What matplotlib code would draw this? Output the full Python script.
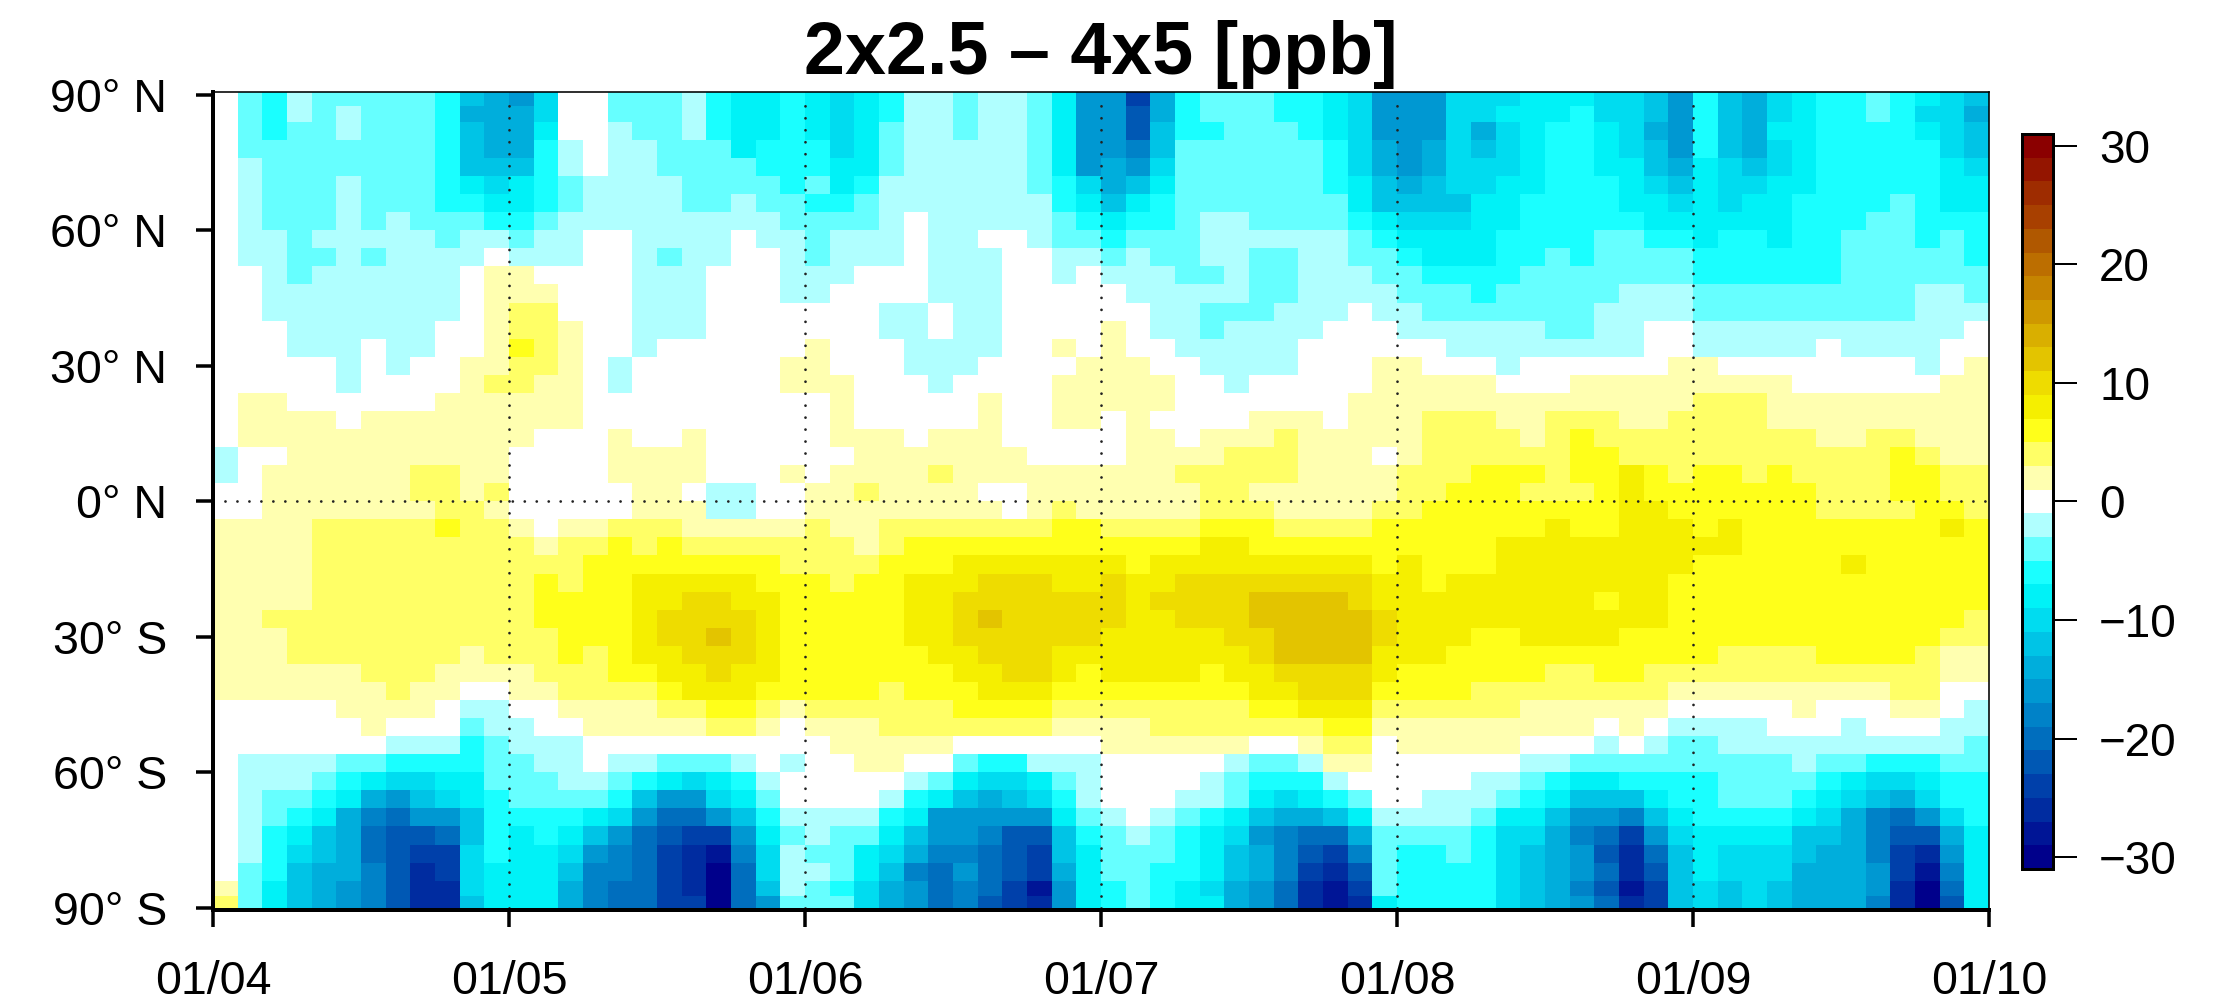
import numpy as np
import matplotlib
matplotlib.use('Agg')
from matplotlib import pyplot as plt
from matplotlib.colors import ListedColormap, BoundaryNorm

plt.rcParams['font.family'] = ['Liberation Sans', 'DejaVu Sans']

# colour bin read for every cell (1 bin = 2 ppb), north to south, 12 columns a month
apr_may = [
    [0,-2,-3,-1,-2,-2,-2,-2,-2,-3,-6,-7,-8,-5,0,0,-2,-2,-2,-1,-3,-4,-4,-3],
    [0,-2,-3,-1,-2,-1,-2,-2,-2,-3,-7,-7,-7,-5,0,0,-2,-2,-2,-1,-3,-4,-4,-3],
    [0,-2,-3,-2,-2,-1,-2,-2,-2,-3,-6,-7,-7,-4,0,0,-1,-2,-2,-1,-3,-4,-4,-3],
    [0,-2,-2,-2,-2,-2,-2,-2,-2,-3,-6,-7,-7,-3,-1,0,-1,-1,-2,-2,-2,-4,-3,-3],
    [0,-1,-2,-2,-2,-2,-2,-2,-2,-3,-6,-6,-6,-3,-1,0,-1,-1,-2,-2,-2,-2,-3,-3],
    [0,-1,-2,-2,-2,-1,-2,-2,-2,-3,-4,-5,-4,-3,-2,-1,-1,-1,-1,-2,-2,-2,-2,-3],
    [0,-1,-2,-2,-2,-1,-2,-2,-2,-3,-3,-4,-4,-3,-2,-1,-1,-1,-1,-2,-2,-1,-2,-2],
    [0,-1,-2,-2,-2,-1,-2,-1,-2,-2,-2,-3,-3,-2,-1,-1,-1,-1,-1,-1,-1,-1,-1,-2],
    [0,-1,-1,-2,-1,-1,-1,-1,-1,-2,-1,-1,-2,-1,-1,0,0,-1,-1,-1,-1,0,-1,-1],
    [0,-1,-1,-2,-2,-1,-2,-1,-1,-1,-1,0,-1,-1,-1,0,0,-1,-2,-1,-1,0,0,-1],
    [0,0,-1,-2,-1,-1,-1,-1,-1,-1,0,1,1,0,0,0,0,-1,-1,-1,0,0,0,-1],
    [0,0,-1,-1,-1,-1,-1,-1,-1,-1,0,1,1,1,0,0,0,-1,-1,-1,0,0,0,-1],
    [0,0,-1,-1,-1,-1,-1,-1,-1,-1,0,1,2,2,0,0,0,-1,-1,-1,0,0,0,0],
    [0,0,0,-1,-1,-1,-1,-1,-1,0,0,1,2,2,1,0,0,-1,-1,-1,0,0,0,0],
    [0,0,0,-1,-1,-1,0,-1,-1,0,0,1,3,2,1,0,0,-1,0,0,0,0,0,0],
    [0,0,0,0,0,-1,0,-1,0,0,1,1,2,2,1,0,-1,0,0,0,0,0,0,1],
    [0,0,0,0,0,-1,0,0,0,0,1,2,2,1,1,0,-1,0,0,0,0,0,0,1],
    [0,1,1,0,0,0,0,0,0,1,1,1,1,1,1,0,0,0,0,0,0,0,0,0],
    [0,1,1,1,1,0,1,1,1,1,1,1,1,1,1,0,0,0,0,0,0,0,0,0],
    [0,1,1,1,1,1,1,1,1,1,1,1,1,0,0,0,1,0,0,1,0,0,0,0],
    [-1,0,0,1,1,1,1,1,1,1,1,1,0,0,0,0,1,1,1,1,0,0,0,0],
    [-1,0,1,1,1,1,1,1,2,2,1,1,0,0,0,0,1,1,1,1,0,0,0,1],
    [0,0,1,1,1,1,1,1,2,2,1,2,0,0,0,0,0,1,1,0,-1,-1,0,0],
    [0,0,1,1,1,1,1,1,1,2,2,1,0,0,0,0,0,1,1,1,-1,-1,0,0],
    [1,1,1,1,2,2,2,2,2,3,2,2,1,0,1,1,2,2,2,1,1,1,1,1],
    [1,1,1,1,2,2,2,2,2,2,2,2,2,1,2,2,3,2,3,2,2,2,2,2],
    [1,1,1,1,2,2,2,2,2,2,2,2,2,2,2,3,3,3,3,3,3,3,3,2],
    [1,1,1,1,2,2,2,2,2,2,2,2,2,3,2,3,3,4,4,4,4,4,3,3],
    [1,1,1,1,2,2,2,2,2,2,2,2,2,3,3,3,3,4,4,5,5,4,4,3],
    [1,1,2,2,2,2,2,2,2,2,2,2,2,3,3,3,3,4,5,5,5,5,4,3],
    [1,1,1,2,2,2,2,2,2,2,2,2,2,2,3,3,3,4,5,5,6,5,4,3],
    [1,1,1,2,2,2,2,2,2,2,1,2,2,2,3,2,3,4,4,5,5,5,4,3],
    [1,1,1,1,1,1,2,2,2,1,1,1,1,2,2,2,3,3,4,4,5,4,4,3],
    [1,1,1,1,1,1,1,2,1,1,0,0,1,1,2,2,2,2,3,4,4,4,3,3],
    [0,0,0,0,0,1,1,1,1,0,-1,-1,0,0,1,1,1,1,2,2,3,3,2,1],
    [0,0,0,0,0,0,1,0,0,0,-2,-1,-1,0,0,1,1,1,1,1,2,2,1,0],
    [0,0,0,0,0,0,0,-1,-1,-1,-3,-2,-1,-1,-1,0,0,0,0,0,0,0,0,0],
    [0,-1,-1,-1,-1,-2,-2,-3,-3,-3,-3,-2,-2,-1,-1,0,-1,-1,-2,-2,-2,-1,0,-1],
    [0,-1,-1,-1,-2,-3,-4,-5,-5,-4,-4,-2,-2,-2,-1,-1,-2,-3,-4,-5,-4,-3,-1,0],
    [0,-1,-2,-2,-3,-4,-7,-8,-6,-5,-4,-3,-2,-2,-2,-2,-3,-6,-8,-8,-5,-4,-2,0],
    [0,-1,-2,-3,-4,-7,-9,-10,-8,-8,-6,-3,-3,-3,-3,-4,-5,-8,-10,-10,-8,-6,-3,-1],
    [0,-1,-3,-4,-6,-7,-10,-11,-11,-10,-6,-3,-4,-3,-4,-6,-8,-10,-11,-12,-12,-8,-4,-2],
    [0,-1,-3,-5,-6,-7,-10,-11,-12,-12,-5,-3,-4,-4,-5,-8,-9,-10,-12,-13,-14,-9,-5,-1],
    [0,-2,-3,-6,-7,-7,-9,-11,-13,-12,-5,-4,-4,-4,-6,-9,-9,-10,-12,-13,-15,-10,-5,-1],
    [1,-2,-4,-6,-7,-8,-9,-11,-13,-13,-5,-4,-4,-4,-7,-9,-10,-10,-12,-13,-15,-10,-6,-1],
    [2,-2,-4,-6,-7,-8,-9,-11,-13,-13,-6,-4,-4,-4,-7,-9,-10,-10,-12,-12,-15,-10,-8,-2],
]

jun_jul = [
    [-4,-5,-4,-3,-1,-1,-2,-1,-1,-2,-4,-8,-8,-12,-7,-3,-2,-2,-2,-3,-3,-4,-5,-8],
    [-4,-5,-4,-3,-1,-1,-2,-1,-1,-2,-4,-8,-8,-11,-7,-3,-2,-2,-2,-3,-3,-4,-5,-8],
    [-4,-5,-4,-2,-1,-1,-2,-1,-1,-2,-4,-8,-8,-11,-6,-3,-3,-2,-2,-2,-3,-4,-5,-8],
    [-3,-5,-4,-2,-1,-1,-1,-1,-1,-2,-4,-8,-8,-9,-6,-2,-2,-2,-2,-2,-2,-3,-5,-7],
    [-3,-4,-4,-2,-1,-1,-1,-1,-1,-2,-4,-8,-7,-8,-5,-2,-2,-2,-2,-2,-2,-3,-5,-7],
    [-2,-4,-3,-1,-1,-1,-1,-1,-1,-2,-3,-5,-7,-6,-4,-2,-2,-2,-2,-2,-2,-3,-4,-6],
    [-3,-3,-2,-1,-1,-1,-1,-1,-1,-1,-3,-4,-6,-4,-3,-2,-2,-2,-2,-2,-2,-2,-4,-6],
    [-2,-2,-2,-1,0,-1,-1,-1,-1,-1,-2,-3,-4,-3,-3,-2,-1,-1,-2,-2,-2,-2,-3,-4],
    [-2,-1,-1,-1,0,-1,-1,0,0,-1,-2,-2,-3,-2,-2,-2,-1,-1,-1,-1,-1,-1,-2,-3],
    [-2,-1,-1,-1,0,-1,-1,-1,0,0,-1,-1,-2,-1,-2,-2,-1,-1,-2,-2,-1,-1,-2,-2],
    [-1,-1,0,0,0,-1,-1,-1,0,0,-1,0,-1,-1,-1,-2,-2,-1,-2,-2,-1,-1,-1,-2],
    [-1,0,0,0,0,-1,-1,-1,0,0,0,0,0,-1,-1,-1,-1,-1,-2,-2,-1,-1,-1,-1],
    [0,0,0,-1,-1,0,-1,-1,0,0,0,0,0,0,-1,-1,-2,-2,-2,-1,-1,-1,0,-1],
    [0,0,0,-1,-1,0,-1,-1,0,0,0,0,1,0,-1,-1,-2,-1,-1,-1,-1,0,0,0],
    [1,0,0,0,-1,-1,-1,-1,0,0,1,0,1,0,0,-1,-1,-1,-1,-1,0,0,0,0],
    [1,0,0,0,-1,-1,-1,0,0,0,0,1,1,1,0,0,-1,-1,-1,-1,0,0,0,1],
    [1,1,0,0,0,-1,0,0,0,0,1,1,1,1,1,0,0,-1,0,0,0,0,0,1],
    [0,1,0,0,0,0,0,1,0,0,1,1,1,1,1,0,0,0,0,0,0,0,1,1],
    [0,1,0,0,0,0,0,1,0,0,1,1,0,1,0,0,0,0,1,1,1,0,1,1],
    [0,1,1,1,0,1,1,1,0,0,0,0,0,1,1,0,1,1,1,2,1,1,1,1],
    [0,0,1,1,1,1,1,1,1,0,0,0,0,1,1,1,1,2,2,2,1,1,1,0],
    [0,1,1,1,1,2,1,1,1,1,1,1,1,1,1,2,2,2,2,2,1,1,1,1],
    [1,1,2,1,1,1,1,0,0,1,1,1,1,1,1,1,2,2,1,1,1,1,1,1],
    [1,1,1,1,1,1,1,1,0,1,2,1,1,1,1,1,2,2,2,1,1,1,1,2],
    [2,1,1,2,2,2,2,2,2,2,3,3,2,2,2,2,3,3,3,2,2,2,2,3],
    [2,2,1,2,3,3,3,3,3,3,3,3,3,3,3,3,4,4,3,3,3,3,3,3],
    [2,2,2,3,3,3,4,4,4,4,4,4,4,3,4,4,4,4,4,4,4,4,4,3],
    [3,2,3,3,4,4,4,5,5,5,4,4,5,4,4,5,5,5,5,5,5,5,5,4],
    [3,3,3,3,4,4,5,5,5,5,5,5,5,4,5,5,5,5,6,6,6,6,5,4],
    [3,3,3,3,4,4,5,6,5,5,5,5,5,4,4,5,5,5,6,6,6,6,6,5],
    [3,3,3,3,4,4,5,5,5,5,5,5,4,4,4,4,4,5,5,6,6,6,6,5],
    [3,3,3,3,3,4,4,5,5,5,4,4,4,4,4,4,4,4,5,6,6,6,6,4],
    [3,3,3,3,3,3,4,4,5,5,4,3,4,4,4,4,3,4,4,5,5,5,5,4],
    [3,3,3,2,3,3,3,4,4,4,3,3,3,3,3,3,3,3,4,4,5,5,5,3],
    [2,2,2,2,2,2,3,3,3,3,2,2,2,2,2,2,2,2,3,3,4,4,4,2],
    [1,1,1,2,2,2,2,2,2,2,1,1,1,1,2,2,2,2,2,2,2,3,3,1],
    [0,1,1,1,1,1,0,0,0,0,0,0,1,1,1,1,1,1,0,0,1,2,2,0],
    [0,0,1,1,0,0,-2,-3,-3,-1,-1,-1,0,0,0,0,0,-1,-2,-2,-1,1,1,0],
    [0,0,0,0,-1,-2,-4,-5,-5,-4,-2,-1,0,0,0,0,-1,-2,-3,-3,-3,-1,0,0],
    [0,0,0,-1,-3,-4,-6,-7,-6,-5,-3,-1,0,0,0,-1,-1,-2,-4,-5,-4,-3,-2,0],
    [-1,-1,-1,-3,-4,-8,-8,-8,-8,-8,-4,-2,-1,0,-1,-2,-3,-4,-6,-7,-7,-6,-4,-1],
    [-1,-2,-2,-4,-6,-8,-8,-9,-11,-11,-6,-3,-2,-1,-2,-3,-4,-5,-8,-9,-10,-10,-7,-2],
    [-2,-2,-4,-5,-7,-9,-9,-10,-11,-12,-6,-4,-2,-2,-2,-3,-4,-6,-7,-9,-11,-12,-9,-2],
    [-1,-2,-4,-6,-9,-10,-8,-10,-11,-12,-7,-4,-2,-2,-3,-3,-4,-6,-7,-9,-12,-13,-11,-2],
    [-2,-3,-5,-7,-8,-10,-9,-10,-12,-14,-8,-4,-3,-2,-3,-4,-5,-7,-8,-10,-13,-14,-12,-2],
    [-2,-2,-5,-7,-8,-10,-9,-11,-12,-13,-8,-4,-3,-2,-3,-4,-4,-7,-8,-10,-13,-14,-13,-4],
]

aug_sep = [
    [-8,-8,-5,-5,-5,-4,-4,-4,-5,-5,-6,-8,-3,-6,-7,-5,-4,-3,-3,-2,-3,-4,-5,-6],
    [-8,-8,-5,-5,-4,-4,-4,-3,-5,-5,-6,-8,-3,-6,-7,-5,-4,-3,-3,-2,-3,-5,-5,-7],
    [-8,-8,-5,-7,-5,-4,-3,-3,-4,-5,-7,-8,-3,-6,-7,-4,-4,-3,-3,-3,-3,-4,-5,-6],
    [-8,-7,-5,-6,-5,-4,-3,-3,-4,-5,-6,-8,-3,-6,-7,-5,-4,-3,-3,-3,-3,-3,-5,-6],
    [-8,-7,-5,-5,-5,-4,-3,-3,-4,-4,-6,-7,-4,-5,-6,-5,-4,-3,-3,-3,-3,-3,-4,-5],
    [-7,-6,-5,-5,-4,-4,-3,-3,-3,-4,-5,-6,-4,-5,-5,-4,-4,-3,-3,-3,-3,-3,-4,-4],
    [-6,-6,-6,-4,-4,-3,-3,-3,-3,-4,-4,-5,-4,-5,-4,-4,-3,-3,-3,-3,-2,-3,-4,-4],
    [-5,-5,-5,-4,-4,-3,-3,-3,-3,-3,-4,-4,-4,-4,-4,-4,-3,-3,-3,-2,-2,-3,-3,-3],
    [-4,-4,-4,-4,-3,-3,-3,-3,-2,-2,-3,-3,-4,-3,-3,-4,-3,-3,-2,-2,-2,-3,-2,-3],
    [-3,-4,-4,-4,-3,-3,-2,-3,-2,-2,-2,-2,-3,-3,-3,-3,-3,-3,-2,-2,-2,-2,-2,-3],
    [-2,-3,-3,-3,-3,-2,-2,-2,-2,-2,-2,-2,-3,-3,-3,-3,-3,-3,-2,-2,-2,-2,-2,-2],
    [-2,-2,-2,-3,-2,-2,-2,-2,-2,-1,-1,-1,-2,-2,-2,-2,-2,-2,-2,-2,-2,-1,-1,-2],
    [-1,-2,-2,-2,-2,-2,-2,-2,-1,-1,-1,-1,-2,-2,-2,-2,-2,-2,-2,-2,-2,-1,-1,-1],
    [-1,-1,-1,-1,-1,-1,-2,-2,-1,-1,0,0,-1,-1,-1,-1,-1,-1,-1,-1,-1,-1,-1,0],
    [0,0,-1,-1,-1,-1,-1,-1,-1,-1,0,0,-1,-1,-1,-1,-1,0,-1,-1,-1,-1,0,0],
    [1,0,0,0,-1,0,0,0,0,0,0,1,1,0,0,0,0,0,0,0,0,-1,0,1],
    [1,1,1,1,0,0,0,1,1,1,1,1,1,1,1,1,0,0,0,0,0,0,1,1],
    [1,1,1,1,1,1,1,1,1,1,1,1,2,2,2,1,1,1,1,1,1,1,1,1],
    [1,2,2,2,1,1,2,2,2,1,1,2,2,2,2,1,1,1,1,1,1,1,1,1],
    [1,2,2,2,2,1,2,3,2,2,2,2,2,2,2,2,2,1,1,2,2,1,1,1],
    [1,2,2,2,2,2,2,3,3,2,2,2,2,2,2,2,2,2,2,2,3,2,1,1],
    [2,2,2,3,3,3,2,3,3,4,3,2,3,3,2,3,2,2,2,2,3,3,2,2],
    [2,2,3,3,3,2,2,2,3,4,3,3,3,3,3,3,3,2,2,2,3,3,2,2],
    [2,3,3,3,3,3,3,3,3,4,4,3,3,3,3,3,3,2,2,2,2,3,3,2],
    [3,3,3,3,3,3,4,3,3,4,4,4,3,4,3,3,3,3,3,3,3,3,4,3],
    [3,3,3,3,4,4,4,4,4,4,4,4,4,4,3,3,3,3,3,3,3,3,3,3],
    [4,3,3,3,4,4,4,4,4,4,4,4,3,3,3,3,3,3,4,3,3,3,3,3],
    [4,3,4,4,4,4,4,4,4,4,4,3,3,3,3,3,3,3,3,3,3,3,3,3],
    [4,4,4,4,4,4,4,4,3,4,4,3,3,3,3,3,3,3,3,3,3,3,3,3],
    [4,4,4,4,4,4,4,4,4,4,4,3,3,3,3,3,3,3,3,3,3,3,3,2],
    [4,4,4,3,3,4,4,4,4,3,3,3,3,3,3,3,3,3,3,3,3,3,2,2],
    [4,4,3,3,3,3,3,3,3,3,3,3,3,2,2,2,2,3,3,3,3,2,1,1],
    [3,3,3,3,3,3,2,2,3,3,2,2,2,2,2,2,2,2,2,2,2,2,1,1],
    [3,3,3,2,2,2,2,2,2,2,2,1,1,1,1,1,1,1,1,1,2,2,0,0],
    [2,2,2,2,2,1,1,1,1,1,1,0,0,0,0,0,1,0,0,0,1,1,0,-1],
    [1,1,1,1,1,1,1,1,0,1,0,-1,-1,-1,-1,0,0,0,-1,0,0,0,-1,-1],
    [1,1,1,1,1,0,0,0,-1,0,-1,-2,-2,-1,-1,-1,-1,-1,-1,-1,-1,-1,-1,-2],
    [0,0,0,0,0,-1,-1,-2,-2,-2,-2,-2,-2,-2,-2,-2,-1,-2,-2,-3,-3,-3,-2,-2],
    [0,0,0,-1,-1,-2,-3,-4,-4,-3,-3,-3,-3,-2,-2,-2,-2,-3,-4,-5,-5,-4,-3,-3],
    [0,-1,-1,-1,-2,-3,-4,-6,-6,-6,-4,-3,-3,-2,-2,-2,-3,-4,-5,-6,-7,-5,-3,-3],
    [-1,-1,-1,-2,-4,-4,-6,-8,-8,-9,-6,-4,-3,-3,-3,-3,-4,-5,-7,-9,-10,-8,-5,-3],
    [-2,-2,-2,-3,-5,-5,-7,-9,-10,-12,-8,-5,-4,-4,-4,-4,-6,-6,-7,-9,-11,-11,-7,-4],
    [-3,-3,-2,-3,-5,-6,-7,-8,-11,-13,-10,-6,-4,-5,-5,-5,-6,-7,-7,-9,-12,-13,-8,-4],
    [-3,-3,-3,-3,-5,-6,-7,-8,-10,-13,-11,-6,-4,-5,-5,-5,-7,-7,-7,-8,-12,-14,-9,-4],
    [-3,-3,-3,-3,-5,-6,-7,-9,-11,-14,-12,-6,-5,-6,-5,-6,-7,-7,-7,-8,-13,-15,-10,-4],
    [-3,-3,-3,-3,-5,-6,-7,-8,-10,-13,-12,-6,-5,-6,-5,-6,-7,-7,-7,-9,-13,-15,-11,-4],
]

# grid box centres of the 4x5 model, north to south
lat_centres = [89, 86] + list(range(82, -83, -4)) + [-86, -89]
month_labels = ['01/04', '01/05', '01/06', '01/07', '01/08', '01/09', '01/10']
lat_ticks = [90, 60, 30, 0, -30, -60, -90]
lat_labels = ['90° N', '60° N', '30° N', '0° N', '30° S', '60° S', '90° S']
cbar_ticks = [30, 20, 10, 0, -10, -20, -30]
cbar_labels = ['30', '20', '10', '0', '\u221210', '\u221220', '\u221230']

# 31 colours, from -31 to 31 ppb
bin_colours = ['#00008B', '#001596', '#002CA0', '#0040AA', '#0058B4', '#006EBE',
               '#0082C8', '#0098D2', '#00AEDC', '#00C4E6', '#00DCF0', '#00F2F7',
               '#1AFFFF', '#66FFFF', '#B0FFFF', '#FFFFFF', '#FFFFB0', '#FFFF66',
               '#FFFF1A', '#F5EF00', '#EEDC00', '#E3C400', '#D9AF00', '#CF9800',
               '#C68400', '#BC6E00', '#B05800', '#A84000', '#9E2C00', '#941500',
               '#8B0000']

W, H = 2234, 1005
PX = 72 / 100  # points per pixel at dpi 100

diff = np.hstack([np.array(apr_may), np.array(jun_jul), np.array(aug_sep)]) * 2

lat = np.array(lat_centres, dtype=float)
lat_edges = np.concatenate([[90.5], (lat[:-1] + lat[1:]) / 2, [-90.5]])
x_edges = np.arange(diff.shape[1] + 1)
month_pos = np.arange(0, diff.shape[1] + 1, 12)

cmap = ListedColormap(bin_colours)
norm = BoundaryNorm(np.arange(-31, 32, 2), cmap.N)

fig = plt.figure(figsize=(W / 100, H / 100), dpi=100)
ax = fig.add_axes([213 / W, 1 - 910 / H, (1989 - 213) / W, (910 - 92.5) / H])
mesh = ax.pcolormesh(x_edges, lat_edges, diff, cmap=cmap, norm=norm, linewidth=0, antialiased=False)
ax.set_xlim(0, diff.shape[1])
ax.set_ylim(-90.5, 90.5)

# round dots about 12 px apart
dots = (0, (0.01, 4.3))
for m in month_pos[1:-1]:
    ax.plot([m, m], [-90, 90], color='#222222', lw=2.0, linestyle=dots, dash_capstyle='round')
ax.plot([0, diff.shape[1]], [0, 0], color='#222222', lw=2.0, linestyle=dots, dash_capstyle='round')

ax.set_xticks(month_pos)
ax.set_xticklabels(month_labels, fontsize=33.5)
ax.set_yticks(lat_ticks)
ax.set_yticklabels(lat_labels, fontsize=33.5)
ax.tick_params(axis='x', length=17 * PX, width=3.5 * PX, pad=24)
ax.tick_params(axis='y', length=17 * PX, width=3.5 * PX, pad=21)
ax.spines['left'].set_linewidth(4 * PX)
ax.spines['bottom'].set_linewidth(4 * PX)
ax.spines['top'].set_linewidth(1.6 * PX)
ax.spines['right'].set_linewidth(1.6 * PX)
ax.set_title('2x2.5 \u2013 4x5 [ppb]', fontsize=53, fontweight='bold', pad=13)

cax = fig.add_axes([2022 / W, 1 - 869 / H, 31 / W, (869 - 134) / H])
cbar = fig.colorbar(mesh, cax=cax, spacing='proportional')
cbar.set_ticks(cbar_ticks)
cbar.set_ticklabels(cbar_labels)
cbar.minorticks_off()
cbar.outline.set_linewidth(3 * PX)
cax.tick_params(length=24 * PX, width=2 * PX, pad=16, labelsize=33)

fig.savefig('out.png', dpi=100)
